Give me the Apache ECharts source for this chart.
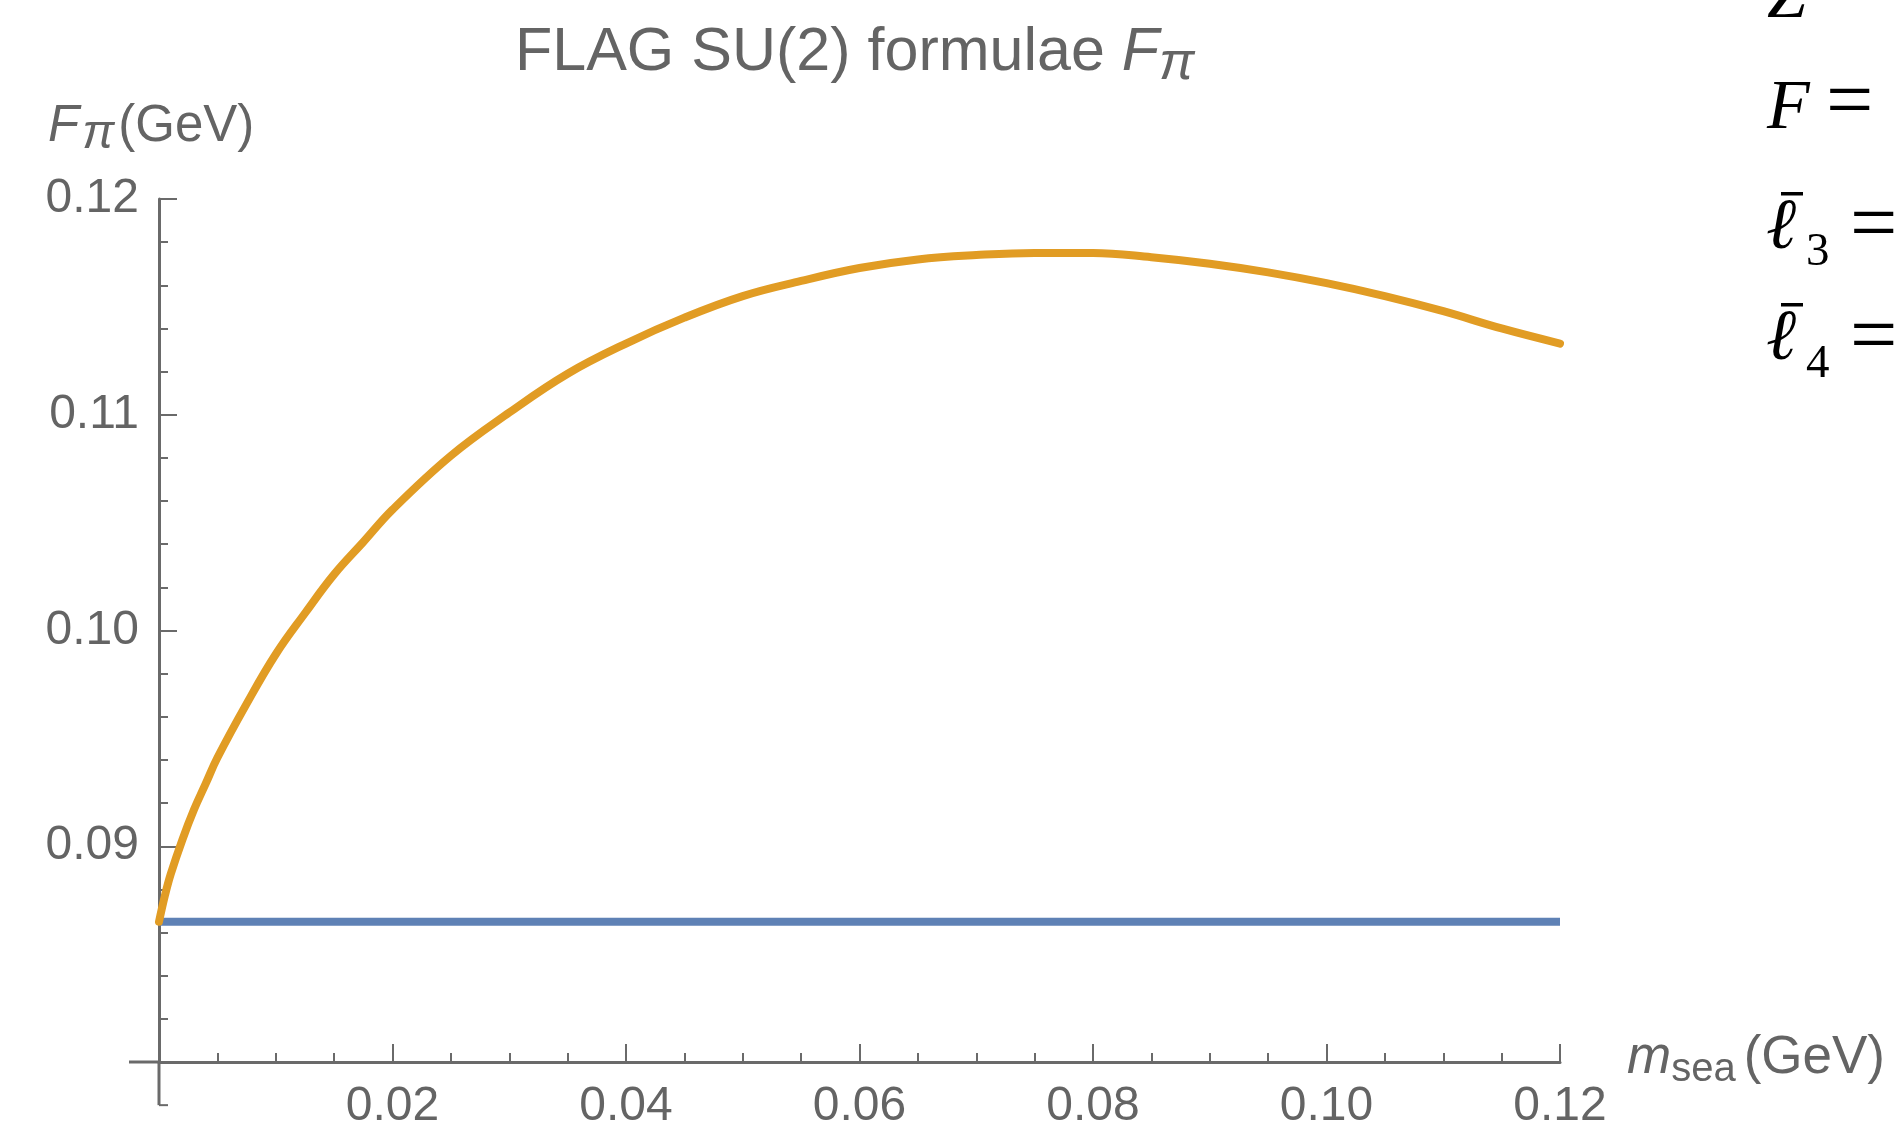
<!DOCTYPE html>
<html>
<head>
<meta charset="utf-8">
<script src="https://cdn.jsdelivr.net/npm/echarts@6/dist/echarts.min.js"></script>
<style>
  html, body { margin: 0; padding: 0; background: #fff; }
  #chart { width: 1896px; height: 1125px; }
</style>
</head>
<body>
<div id="chart"></div>
<script>
const mSea = [0, 0.0005, 0.001, 0.002, 0.003, 0.004, 0.005, 0.0075, 0.01, 0.0125, 0.015, 0.0175,
  0.02, 0.025, 0.03, 0.035, 0.04, 0.045, 0.05, 0.055, 0.06, 0.065, 0.07, 0.075, 0.08,
  0.085, 0.09, 0.095, 0.10, 0.105, 0.11, 0.115, 0.12];
// orange curve F_pi (GeV)
const fpiNLO = [0.0865, 0.0877, 0.0887, 0.0903, 0.0917, 0.0929, 0.0941, 0.0966, 0.0989, 0.1008, 0.1026, 0.1041,
  0.1056, 0.1081, 0.1101, 0.1119, 0.1133, 0.1145, 0.1155, 0.1162, 0.1168, 0.1172, 0.1174, 0.1175, 0.1175,
  0.1173, 0.1170, 0.1166, 0.1161, 0.1155, 0.1148, 0.1140, 0.1133];
// blue line: constant F
const fConstX = [0, 0.12];
const fConstY = [0.0865, 0.0865];

const xTicks = [0.02, 0.04, 0.06, 0.08, 0.10, 0.12];
const yTicks = [0.09, 0.10, 0.11, 0.12];

const gray = '#646464';
const axisGray = '#6a6a6a';
const sans = 'Liberation Sans, Arial, sans-serif';
const serif = 'Liberation Serif, Times New Roman, serif';

const chart = echarts.init(document.getElementById('chart'));

const axisCommon = {
  type: 'value',
  splitLine: { show: false },
  axisLine: { show: true, onZero: false, lineStyle: { color: axisGray, width: 3 } },
  axisTick: { show: true, inside: true, length: 18, lineStyle: { color: axisGray, width: 2 } },
  minorTick: { show: true, length: 9, lineStyle: { color: axisGray, width: 2 } },
  axisLabel: { color: gray, fontSize: 48, fontFamily: sans }
};

// helpers for the equations at the right edge
function mathText(id, text, x, y, size, italic) {
  return {
    id: id, type: 'text', x: x, y: y,
    style: {
      text: text, fill: '#000', align: 'left', verticalAlign: 'middle',
      font: (italic ? 'italic ' : '') + size + 'px ' + serif
    }
  };
}
function macron(id, x, y) {
  return { id: id, type: 'rect', shape: { x: x, y: y, width: 22, height: 3.5 }, style: { fill: '#000' } };
}

const option = {
  backgroundColor: '#fff',
  animation: false,
  grid: { left: 159, right: 336, top: 199, bottom: 63, containLabel: false, outerBoundsMode: 'none' },
  xAxis: Object.assign({}, axisCommon, {
    min: 0, max: 0.12, interval: 0.02,
    minorTick: Object.assign({}, axisCommon.minorTick, { splitNumber: 4 }),
    axisLabel: Object.assign({}, axisCommon.axisLabel, {
      margin: 21,
      formatter: v => xTicks.some(t => Math.abs(t - v) < 1e-9) ? v.toFixed(2) : ''
    })
  }),
  yAxis: Object.assign({}, axisCommon, {
    min: 0.08, max: 0.12, interval: 0.01,
    minorTick: Object.assign({}, axisCommon.minorTick, { splitNumber: 5 }),
    axisLabel: Object.assign({}, axisCommon.axisLabel, {
      margin: 20,
      formatter: v => yTicks.some(t => Math.abs(t - v) < 1e-9) ? v.toFixed(2) : ''
    })
  }),
  series: [
    {
      type: 'line',
      data: fConstX.map((x, i) => [x, fConstY[i]]),
      symbol: 'none',
      lineStyle: { color: '#5E81B5', width: 8 },
      z: 2
    },
    {
      type: 'line',
      data: mSea.map((x, i) => [x, fpiNLO[i]]),
      symbol: 'none',
      smooth: 0.4,
      lineStyle: { color: '#E19C24', width: 8, cap: 'round' },
      z: 3
    }
  ],
  graphic: [
    {
      id: 'title', type: 'text', x: 515, y: 53,
      style: {
        text: '{a|FLAG SU(2) formulae }{i|F}{s|π}',
        align: 'left', verticalAlign: 'middle',
        rich: {
          a: { fontSize: 61, fontFamily: sans, fill: gray, lineHeight: 76, verticalAlign: 'middle' },
          i: { fontSize: 61, fontFamily: sans, fontStyle: 'italic', fill: gray, lineHeight: 76, verticalAlign: 'middle' },
          s: { fontSize: 53, fontFamily: sans, fontStyle: 'italic', fill: gray, lineHeight: 52, verticalAlign: 'bottom' }
        }
      }
    },
    {
      id: 'yname', type: 'text', x: 48, y: 127,
      style: {
        text: '{i|F}{s|π}{a|(GeV)}',
        align: 'left', verticalAlign: 'middle',
        rich: {
          a: { fontSize: 51, fontFamily: sans, fill: gray, lineHeight: 64, verticalAlign: 'middle' },
          i: { fontSize: 51, fontFamily: sans, fontStyle: 'italic', fill: gray, lineHeight: 64, verticalAlign: 'middle', padding: [0, 3, 0, 0] },
          s: { fontSize: 48, fontFamily: sans, fontStyle: 'italic', fill: gray, lineHeight: 46, verticalAlign: 'bottom', padding: [0, 4, 0, 0] }
        }
      }
    },
    {
      id: 'xname', type: 'text', x: 1627, y: 1058,
      style: {
        text: '{i|m}{s|sea}{a|(GeV)}',
        align: 'left', verticalAlign: 'middle',
        rich: {
          a: { fontSize: 53, fontFamily: sans, fill: gray, lineHeight: 64, verticalAlign: 'middle', padding: [0, 0, 0, 8] },
          i: { fontSize: 53, fontFamily: sans, fontStyle: 'italic', fill: gray, lineHeight: 64, verticalAlign: 'middle' },
          s: { fontSize: 40, fontFamily: sans, fill: gray, lineHeight: 39, verticalAlign: 'bottom' }
        }
      }
    },
    // Z =
    mathText('zSym', 'Z', 1767, -1, 70, true),
    mathText('zEq', '=', 1852, -4, 84, false),
    // F =
    mathText('fSym', 'F', 1767, 110, 70, true),
    mathText('fEq', '=', 1826, 106, 84, false),
    // l3 bar =
    mathText('l3Sym', 'ℓ', 1766, 229, 72, true),
    macron('l3Bar', 1781, 192),
    mathText('l3Sub', '3', 1806, 253, 47, false),
    mathText('l3Eq', '=', 1850, 229, 84, false),
    // l4 bar =
    mathText('l4Sym', 'ℓ', 1766, 340, 72, true),
    macron('l4Bar', 1781, 303),
    mathText('l4Sub', '4', 1806, 365, 47, false),
    mathText('l4Eq', '=', 1850, 341, 84, false)
  ]
};

chart.setOption(option);

// Mathematica-style axis overhang past the origin
const o = chart.convertToPixel({ gridIndex: 0 }, [0, 0.08]);
const yLow = chart.convertToPixel({ gridIndex: 0 }, [0, 0.078]);
const lineStyle = { stroke: axisGray, lineWidth: 3 };
chart.setOption({
  graphic: [
    { id: 'ovx', type: 'line', shape: { x1: o[0] - 30, y1: o[1], x2: o[0], y2: o[1] }, style: lineStyle },
    { id: 'ovy', type: 'line', shape: { x1: o[0], y1: o[1], x2: o[0], y2: yLow[1] }, style: lineStyle },
    { id: 'ovt', type: 'line', shape: { x1: o[0], y1: yLow[1], x2: o[0] + 9, y2: yLow[1] }, style: { stroke: axisGray, lineWidth: 2 } }
  ]
});
</script>
</body>
</html>
